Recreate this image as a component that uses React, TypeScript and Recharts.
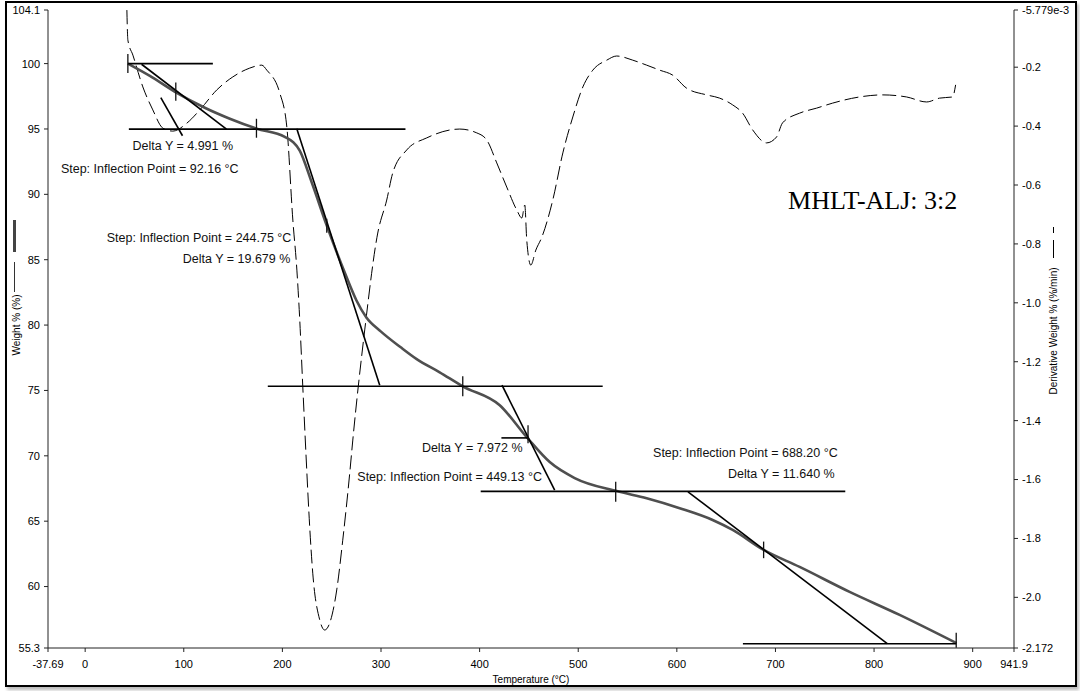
import { ComposedChart, Line, XAxis, YAxis, ReferenceLine, ReferenceDot, Label } from "recharts";

// weight curve (left axis, %)
const weightTemp = [43.3, 65.6, 92.9, 121.3, 146.7, 174.0, 202.4, 217.6, 229.8, 245.0, 263.2, 275.0, 285.0, 300.0, 320.0, 336.2, 359.5, 382.9, 420.4, 447.8, 471.1, 496.4, 539.0, 569.4, 602.9, 636.3, 656.6, 688.0, 724.5, 775.2, 825.9, 883.6];
const weightPct = [100.0, 99.06, 97.76, 96.62, 95.78, 95.02, 94.4, 93.34, 90.9, 87.61, 84.02, 81.9, 80.6, 79.5, 78.3, 77.4, 76.39, 75.32, 73.87, 71.42, 69.52, 68.3, 67.3, 66.75, 65.99, 65.09, 64.33, 62.8, 61.5, 59.59, 57.83, 55.67];

// derivative weight curve (right axis, %/min)
const derivTemp = [42.3, 43.3, 48.4, 58.5, 68.6, 78.8, 88.9, 103.1, 116.3, 133.5, 149.7, 166.9, 179.1, 184.2, 197.4, 204.5, 210.6, 214.7, 217.6, 220.7, 224.7, 225.7, 230.8, 237.9, 242.9, 248.0, 255.1, 261.2, 268.3, 271.4, 283.5, 296.7, 305.8, 311.9, 326.1, 346.4, 379.8, 397.1, 407.2, 417.4, 427.5, 437.7, 442.8, 445.8, 447.8, 451.9, 457.0, 463.1, 474.2, 484.4, 494.5, 504.7, 514.8, 529.0, 539.0, 555.2, 569.4, 582.6, 595.8, 609.8, 630.2, 643.4, 656.6, 666.7, 676.9, 691.0, 701.1, 707.2, 724.5, 741.7, 757.9, 785.3, 808.6, 832.9, 853.2, 866.4, 879.6, 882.7];
const derivRate = [-0.006, -0.108, -0.159, -0.267, -0.345, -0.407, -0.417, -0.39, -0.345, -0.277, -0.233, -0.203, -0.193, -0.21, -0.288, -0.403, -0.719, -0.889, -1.058, -1.286, -1.568, -1.636, -1.918, -2.077, -2.111, -2.087, -1.975, -1.806, -1.578, -1.466, -1.092, -0.763, -0.651, -0.559, -0.481, -0.44, -0.41, -0.423, -0.447, -0.525, -0.607, -0.685, -0.712, -0.668, -0.787, -0.872, -0.821, -0.777, -0.651, -0.491, -0.369, -0.267, -0.21, -0.176, -0.162, -0.176, -0.193, -0.21, -0.227, -0.271, -0.294, -0.305, -0.328, -0.356, -0.413, -0.457, -0.437, -0.389, -0.356, -0.339, -0.322, -0.301, -0.294, -0.301, -0.318, -0.305, -0.301, -0.26];

const xTicks = [-37.69, 0, 100, 200, 300, 400, 500, 600, 700, 800, 900, 941.9];
const weightTicks = [55.3, 60, 65, 70, 75, 80, 85, 90, 95, 100, 104.1];
const derivTicks = [-2.172, -2.0, -1.8, -1.6, -1.4, -1.2, -1.0, -0.8, -0.6, -0.4, -0.2, -0.005779];

// step analysis construction lines, in temperature / weight %: [t1, w1, t2, w2]
const constructionLines = [
  [43.3, 100.0, 129.5, 100.0],
  [44.3, 94.99, 324.8, 94.99],
  [57.2, 99.95, 143.3, 94.99],
  [76.7, 97.4, 98.7, 94.48],
  [214.6, 95.02, 298.7, 75.4],
  [185.2, 75.32, 524.8, 75.32],
  [422.7, 75.4, 476.1, 67.38],
  [422.1, 71.37, 449.1, 71.37],
  [401.1, 67.28, 770.8, 67.28],
  [611.3, 67.25, 813.4, 55.63],
  [667.0, 55.63, 883.3, 55.63],
];

// tick marks at onset / inflection / end points: [t, wTop, wBottom]
const stepMarks = [
  [43.3, 100.74, 99.29],
  [91.9, 98.55, 97.15],
  [173.7, 95.78, 94.33],
  [245.0, 88.14, 87.07],
  [382.9, 76.08, 74.55],
  [449.1, 72.34, 70.97],
  [538.0, 68.02, 66.49],
  [688.0, 63.44, 62.17],
  [883.3, 56.47, 55.32],
];

const noteTexts = [
  "Delta Y = 4.991 %",
  "Step: Inflection Point = 92.16 °C",
  "Step: Inflection Point = 244.75 °C",
  "Delta Y = 19.679 %",
  "Delta Y = 7.972 %",
  "Step: Inflection Point = 449.13 °C",
  "Step: Inflection Point = 688.20 °C",
  "Delta Y = 11.640 %",
];
const noteTemp = [99.0, 65.5, 115.5, 153.5, 392.5, 369.6, 669.5, 706.0];
const noteWeight = [93.72, 91.96, 86.72, 85.09, 70.66, 68.4, 70.23, 68.66];

const sampleName = "MHLT-ALJ: 3:2";

const weightData = weightTemp.map((t, i) => ({ t, w: weightPct[i] }));
const derivData = derivTemp.map((t, i) => ({ t, d: derivRate[i] }));

const font = "'Liberation Sans', Arial, sans-serif";
const tickStyle = { fontSize: 11, fill: "#000", fontFamily: font };

function fmtDeriv(v: number) {
  if (v === -0.005779) return "-5.779e-3";
  if (v === -2.172) return "-2.172";
  return v.toFixed(1);
}

export default function App() {
  return (
    <div style={{ position: "absolute", left: 0, top: 0, width: 1080, height: 691, background: "#fff" }}>
      <ComposedChart width={1080} height={691} margin={{ top: 10, right: 8, bottom: 13, left: 8 }}>
        <XAxis
          type="number"
          dataKey="t"
          domain={[-37.69, 941.9]}
          ticks={xTicks}
          interval={0}
          height={30}
          tickSize={4}
          tickMargin={8}
          tick={tickStyle}
          stroke="#222"
          tickFormatter={(v: number) => String(v)}
        >
          <Label value="Temperature (°C)" position="insideBottom" offset={-5} style={{ fontSize: 10, fill: "#000", fontFamily: font }} />
        </XAxis>
        <YAxis
          yAxisId="left"
          type="number"
          domain={[55.3, 104.1]}
          ticks={weightTicks}
          interval={0}
          width={40}
          tickSize={4}
          tickMargin={4}
          tick={tickStyle}
          stroke="#222"
        />
        <YAxis
          yAxisId="right"
          orientation="right"
          type="number"
          domain={[-2.172, -0.005779]}
          ticks={derivTicks}
          interval={0}
          width={58}
          tickSize={4}
          tickMargin={4}
          tick={tickStyle}
          stroke="#222"
          tickFormatter={fmtDeriv}
        />
        <Line
          yAxisId="right"
          data={derivData}
          dataKey="d"
          type="monotone"
          stroke="#000"
          strokeWidth={1}
          strokeDasharray="14 5"
          dot={false}
          isAnimationActive={false}
        />
        <Line
          yAxisId="left"
          data={weightData}
          dataKey="w"
          type="monotone"
          stroke="#4f4f4f"
          strokeWidth={2.6}
          dot={false}
          isAnimationActive={false}
        />
        {constructionLines.map((s, i) => (
          <ReferenceLine
            key={"c" + i}
            yAxisId="left"
            segment={[{ x: s[0], y: s[1] }, { x: s[2], y: s[3] }]}
            stroke="#000"
            strokeWidth={1.6}
          />
        ))}
        {stepMarks.map((m, i) => (
          <ReferenceLine
            key={"m" + i}
            yAxisId="left"
            segment={[{ x: m[0], y: m[1] }, { x: m[0], y: m[2] }]}
            stroke="#111"
            strokeWidth={1.3}
          />
        ))}
        {noteTexts.map((txt, i) => (
          <ReferenceDot
            key={"n" + i}
            yAxisId="left"
            x={noteTemp[i]}
            y={noteWeight[i]}
            r={0}
            shape={(p: any) => (
              <text x={p.cx} y={p.cy} dy="0.36em" textAnchor="middle" fontSize={12.5} fontFamily={font} fill="#111">
                {txt}
              </text>
            )}
          />
        ))}
        <ReferenceDot
          yAxisId="left"
          x={798.6}
          y={89.5}
          r={0}
          shape={(p: any) => (
            <text x={p.cx} y={p.cy} dy="0.33em" textAnchor="middle" fontSize={26} fontFamily="'Liberation Serif', 'Times New Roman', serif" fill="#000">
              {sampleName}
            </text>
          )}
        />
      </ComposedChart>

      {/* axis titles with line samples */}
      <div style={{ position: "absolute", left: 13, top: 220, width: 2.5, height: 32, background: "#444" }} />
      <div style={{ position: "absolute", left: 14, top: 262, width: 1, height: 30, background: "#333" }} />
      <div
        style={{
          position: "absolute",
          left: 16.5 - 60,
          top: 325 - 7,
          width: 120,
          height: 14,
          lineHeight: "14px",
          textAlign: "center",
          fontSize: 10,
          fontFamily: font,
          color: "#000",
          transform: "rotate(-90deg)",
        }}
      >
        Weight % (%)
      </div>
      <div style={{ position: "absolute", left: 1053, top: 227, width: 1, height: 6, background: "#000" }} />
      <div style={{ position: "absolute", left: 1053, top: 240, width: 1, height: 18, background: "#000" }} />
      <div
        style={{
          position: "absolute",
          left: 1054 - 90,
          top: 331 - 7,
          width: 180,
          height: 14,
          lineHeight: "14px",
          textAlign: "center",
          fontSize: 10,
          fontFamily: font,
          color: "#000",
          transform: "rotate(-90deg)",
        }}
      >
        Derivative Weight % (%/min)
      </div>

      {/* outer frame */}
      <div
        style={{
          position: "absolute",
          left: 5,
          top: 1,
          width: 1072,
          height: 686,
          border: "2px solid #000",
          boxSizing: "border-box",
          boxShadow: "2px 3px 3px #bbb",
          pointerEvents: "none",
        }}
      />
    </div>
  );
}
